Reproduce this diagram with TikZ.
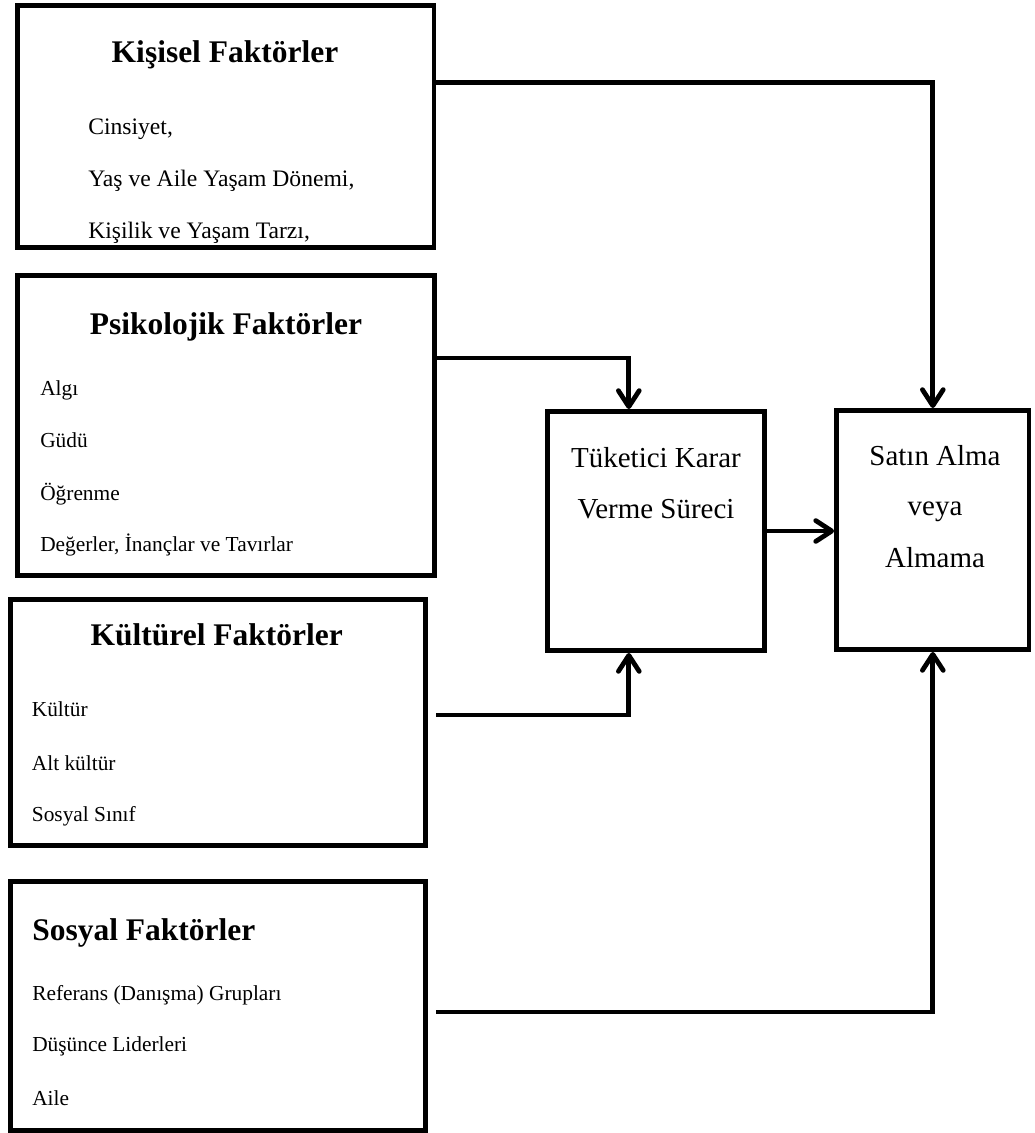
\documentclass[tikz,border=0pt]{standalone}
\usepackage{fontspec}
\setmainfont{Liberation Serif}
\usetikzlibrary{arrows.meta,calc}

\begin{document}
\begin{tikzpicture}[
      kutu/.style={draw, line width=3.5pt, inner sep=0pt},
      baslik/.style={font=\fontsize{22.4}{27}\selectfont\bfseries, anchor=base, inner sep=0pt},
      madde/.style={font=\fontsize{15.2}{18}\selectfont, anchor=base west, inner sep=0pt},
      buyukmadde/.style={madde, font=\fontsize{16.8}{20}\selectfont},
      metin/.style={font=\fontsize{20.6}{25}\selectfont, anchor=base, inner sep=0pt},
      ok/.style={line width=3.4pt, -{Straight Barb[length=4mm,width=5.2mm,round]}}]
    \useasboundingbox (0,0) rectangle (25.85,-28.325);

    % faktor kutulari
    \node[kutu, minimum width=10.41cm, minimum height=6.05cm]   (kis) at (5.644,-3.163) {};
    \node[kutu, minimum width=10.425cm, minimum height=7.5cm]   (psi) at (5.65,-10.638) {};
    \node[kutu, minimum width=10.375cm, minimum height=6.15cm]  (kul) at (5.45,-18.063) {};
    \node[kutu, minimum width=10.375cm, minimum height=6.225cm] (sos) at (5.45,-25.15) {};
    \node[kutu, minimum width=5.425cm, minimum height=5.975cm]  (tuk) at (16.4,-13.275) {};
    \node[kutu, minimum width=4.81cm, minimum height=5.975cm]   (sat) at (23.32,-13.25) {};

    \node[baslik] at (5.625,-1.575) {Kişisel Faktörler};
    \node[buyukmadde] at (2.2,-3.375) {Cinsiyet,};
    \node[buyukmadde] at (2.2,-4.675) {Yaş ve Aile Yaşam Dönemi,};
    \node[buyukmadde] at (2.2,-5.975) {Kişilik ve Yaşam Tarzı,};

    \node[baslik] at (5.65,-8.35) {Psikolojik Faktörler};
    \node[madde] at (1.0,-9.875) {Algı};
    \node[madde] at (1.0,-11.18) {Güdü};
    \node[madde] at (1.0,-12.5) {Öğrenme};
    \node[madde] at (1.0,-13.79) {Değerler, İnançlar ve Tavırlar};

    \node[baslik] at (5.417,-16.125) {Kültürel Faktörler};
    \node[madde] at (0.79,-17.92) {Kültür};
    \node[madde] at (0.79,-19.25) {Alt kültür};
    \node[madde] at (0.79,-20.54) {Sosyal Sınıf};

    \node[baslik, anchor=base west] at (0.8,-23.5) {Sosyal Faktörler};
    \node[madde] at (0.8,-25.0) {Referans (Danışma) Grupları};
    \node[madde] at (0.8,-26.29) {Düşünce Liderleri};
    \node[madde] at (0.8,-27.625) {Aile};

    \node[metin] at (16.4,-11.675) {Tüketici Karar};
    \node[metin] at (16.4,-12.95) {Verme Süreci};
    \node[metin] at (23.375,-11.625) {Satın Alma};
    \node[metin] at (23.375,-12.875) {veya};
    \node[metin] at (23.375,-14.175) {Almama};

    % oklar
    \draw[ok] ([yshift=1.11cm]kis.east) -| (sat.north);
    \draw[ok] ([yshift=1.69cm]psi.east) -| ([xshift=-0.68cm]tuk.north);
    \draw[ok, shorten <=0.21cm] ([yshift=0.19cm]kul.east) -| ([xshift=-0.68cm]tuk.south);
    \draw[ok, shorten <=0.21cm] ([yshift=-0.15cm]sos.east) -| (sat.south);
    \draw[ok] (tuk.east) -- (tuk.east -| sat.west);
  \end{tikzpicture}
\end{document}
